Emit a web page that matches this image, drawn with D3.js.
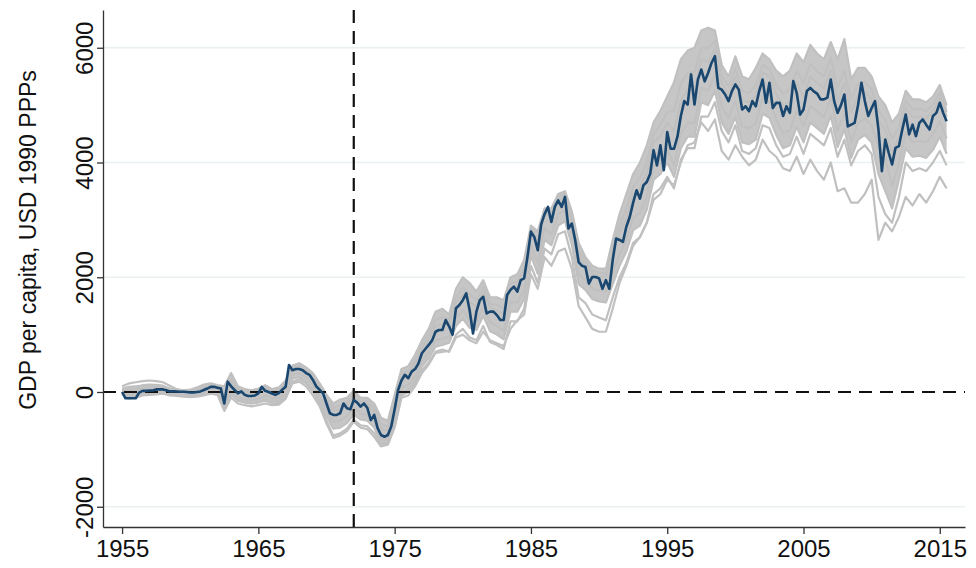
<!DOCTYPE html>
<html>
<head>
<meta charset="utf-8">
<script src="https://cdn.jsdelivr.net/npm/d3@7"></script>
<style>
  body { margin: 0; background: #fff; }
  text { font-family: "Liberation Sans", Arial, sans-serif; }
</style>
</head>
<body>
<div id="chart_area"></div>
<script>

// quarterly treated series, starts 1955q1
var startYear = 1955;
var treated = [
  0,-110,-110,-110, -110,-10,20,20, 25,25,45,45, 45,30,10,10, 10,5,5,0,
  -10,-10,0,10, 35,60,90,90, 75,60,-200,180, 100,35,-25,10, -50,-70,-70,-60,
  -25,90,20,0, -25,-50,-20,40, 90,470,380,400, 400,380,330,300, 210,100,35,-25,
  -200,-370,-400,-400, -370,-200,-285,-300, -140,-185,-255,-200, -280,-490,-400,-630, -750,-780,-750,-600,
  -300,35,200,300, 240,355,400,500, 675,750,820,900, 1050,1080,1080,1255, 1140,1000,1460,1515,
  1600,1720,1430,1020, 1400,1600,1660,1370, 1400,1400,1340,1255, 1255,1690,1780,1835, 1750,1950,1980,2360,
  2795,2700,2470,2920, 3100,3225,2965,3225, 3340,3225,3400,2850, 2935,2645,2265,2200, 2180,1890,2005,2005,
  1980,1800,1950,1800, 2300,2675,2650,2615, 2880,3050,3300,3515, 3370,3600,3660,3805, 4215,3950,4300,3865,
  4530,4240,4240,4450, 4810,5070,5010,5535, 5010,5445,5620,5415, 5560,5735,5855,5300, 5270,5185,5070,5245,
  5360,5270,4925,4980, 4895,5070,4980,5245, 5445,5040,5390,4950, 5040,5040,4810,4980, 4865,5420,5215,4835,
  4925,5245,5300,5240, 5200,5100,5100,5130, 5445,5070,4865,5000, 5185,4630,4660,4690, 5000,5390,5070,4810,
  4950,5070,4575,3850, 4400,4170,3965,4255, 4285,4575,4835,4490, 4660,4460,4690,4750, 4660,4575,4810,4865,
  5040,4865,4720
];

// placebo series, half-yearly, start 1955h1
var placebo1 = [
  60,90,100,110,110,100,80,60,40,30, 40,80,130,150,120,100,330,100,50,30,
  60,120,50,80,200,460,500,430,330,150, -50,-200,-130,-100,20,-100,-100,-200,-450,-500,
  -50,400,450,650,900,1100,1400,1450,1350,1800, 2000,1900,1750,1950,1650,1650,1600,2000,2050,2300,
  2900,2800,3200,3200,3450,3500,3150,2600,2350,2200, 2150,2150,2650,3100,3450,3800,4000,4300,4700,4900,
  5150,5400,5800,5950,6000,6300,6350,6300,5700,5500, 5850,5500,5450,5650,5900,5800,5600,5500,5600,5900,
  5750,6050,5900,5800,6100,5800,6150,5450,5650,5650, 5500,5150,5000,4700,4850,5250,5100,5100,5050,5150,5350,5000
];
var placebo2 = [
  50,40,50,120,130,125,110,60,40,25, 20,50,90,125,100,-20,230,50,10,-10,
  25,80,20,40,160,430,460,390,280,100, -110,-280,-230,-180,-40,-160,-170,-280,-560,-600,
  -150,320,370,550,800,990,1250,1300,1270,1650, 1820,1700,1600,1830,1540,1520,1450,1900,1920,2170,
  2860,2660,3160,3100,3400,3460,3060,2450,2280,2110, 2080,2060,2500,2900,3200,3580,3730,4020,4500,4650,
  4880,4900,5380,5560,5580,6000,5990,6120,5520,5320, 5640,5250,5210,5350,5700,5630,5350,5200,5270,5600,
  5380,5720,5590,5500,5830,5310,5590,5100,5380,5410, 5270,4900,4740,4400,4610,5080,4920,4940,4890,5010,5220,4880
];
var placebo3 = [
  30,10,20,60,70,80,70,40,30,20, 10,30,60,100,90,-100,150,20,-10,-30,
  0,50,0,10,130,400,430,360,240,60, -150,-330,-300,-230,-90,-200,-220,-330,-640,-680,
  -220,260,300,470,740,900,1150,1180,1200,1560, 1700,1560,1500,1740,1470,1420,1350,1840,1830,2070,
  2820,2560,3120,3030,3360,3420,2990,2350,2220,2050, 2020,2000,2400,2780,3020,3440,3550,3830,4350,4460,
  4700,4550,5080,5270,5280,5800,5760,5980,5390,5190, 5490,5080,5050,5160,5570,5500,5190,5000,5060,5400,
  5140,5500,5390,5290,5620,5070,5380,4870,5180,5240, 5100,4730,4570,4170,4440,4950,4790,4800,4770,4900,5120,4800
];
var placebo4 = [
  -20,-60,-40,-10,-5,10,15,-20,-30,-40, -50,-40,-10,40,20,-250,30,-100,-130,-150,
  -120,-60,-110,-100,20,300,330,260,120,-70, -320,-520,-500,-420,-270,-380,-400,-520,-830,-830,
  -420,80,120,280,540,690,900,930,960,1280, 1430,1260,1230,1480,1220,1150,1070,1570,1560,1780,
  2560,2250,2860,2750,3100,3180,2740,2050,1960,1800, 1770,1750,2080,2400,2640,3040,3120,3400,3930,4040,
  4240,3950,4500,4700,4690,5300,5250,5520,4970,4780, 5070,4630,4600,4680,5130,5060,4750,4510,4560,4900,
  4630,4990,4890,4790,5120,4550,4870,4360,4690,4760, 4650,4280,4060,3600,3980,4520,4350,4380,4350,4490,4720,4420
];
var placebo5 = [
  -10,-80,-70,-30,-20,-10,0,-40,-50,-60, -70,-60,-40,0,-20,-300,-50,-150,-180,-200,
  -180,-130,-170,-160,-50,230,260,180,40,-150, -420,-640,-620,-540,-390,-480,-500,-620,-900,-880,
  -520,-20,30,200,450,590,790,820,860,1150, 1280,1120,1080,1330,1060,1000,920,1400,1400,1620,
  2380,2060,2650,2560,2900,2980,2560,1880,1780,1620, 1580,1560,1880,2200,2450,2820,2900,3180,3700,3800,
  4000,3750,4250,4450,4450,5050,5000,5250,4700,4500, 4800,4350,4320,4400,4850,4780,4480,4250,4300,4620,
  4350,4700,4600,4500,4820,4270,4580,4080,4400,4480, 4350,3800,3500,3200,3700,4250,4100,4120,4080,4220,4450,4150
];
var placebo6 = [
  -30,-110,-100,-60,-50,-40,-30,-60,-70,-80, -90,-80,-60,-30,-50,-330,-100,-200,-230,-250,
  -230,-200,-230,-220,-120,150,180,100,-60,-250, -550,-800,-760,-680,-520,-620,-650,-780,-950,-920,
  -620,-100,-60,100,330,480,680,700,720,1000, 1100,950,900,1150,870,820,750,1230,1230,1450,
  2200,1900,2500,2400,2750,2800,2350,1650,1550,1350, 1300,1250,1650,2000,2250,2600,2700,2950,3450,3550,
  3750,3550,4050,4250,4250,4800,4800,5050,4550,4350, 4650,4200,4150,4250,4650,4600,4300,4100,4150,4450,
  4150,4500,4400,4300,4600,4100,4400,3950,4200,4300, 4150,3400,3100,2950,3400,4000,3850,3900,3850,4000,4200,3950
];
var placebo7 = [
  100,150,170,190,200,190,170,110,50,20, 0,20,50,80,60,-150,50,-150,-180,-200,
  -180,-150,-200,-190,-100,180,220,150,0,-200, -500,-760,-720,-640,-480,-580,-600,-720,-920,-900,
  -580,-60,0,150,380,520,700,740,700,950, 1000,900,850,1050,900,850,800,1100,1250,1350,
  2050,1800,2350,2200,2450,2500,2150,1500,1300,1100, 1050,1050,1450,1900,2200,2550,2700,2950,3350,3450,
  3700,3600,4000,4300,4350,4700,4550,4750,4200,4050, 4300,4100,3950,4050,4400,4200,4100,3900,3850,4100,
  3800,4050,3850,3700,4000,3500,3550,3300,3300,3450, 3700,2650,2950,2800,3050,3400,3250,3450,3300,3500,3750,3550
];
var placebos = [placebo1, placebo2, placebo3, placebo4, placebo5, placebo6, placebo7];

var xTicks = [1955, 1965, 1975, 1985, 1995, 2005, 2015];
var yTicks = [-2000, 0, 2000, 4000, 6000];
var treatYear = 1972;
var yTitle = "GDP per capita, USD 1990 PPPs";

var frame_width = 976, frame_height = 568;
var margin = {top: 10, right: 11, bottom: 41, left: 103};
var width = frame_width - margin.left - margin.right;
var height = frame_height - margin.top - margin.bottom;

var svg = d3.select("#chart_area").append("svg")
    .attr("width", frame_width)
    .attr("height", frame_height);
var canvas = svg.append("g")
    .attr("transform", "translate(" + margin.left + "," + margin.top + ")");

var xScale = d3.scaleLinear().domain([1953.6, 2016.85]).range([0, width]);
var yScale = d3.scaleLinear().domain([-2353, 6658]).range([height, 0]);

// gridlines
canvas.append("g").selectAll("line")
    .data(yTicks.filter(function(d) { return d !== 0; }))
    .enter().append("line")
    .attr("x1", 0).attr("x2", width)
    .attr("y1", function(d) { return yScale(d); })
    .attr("y2", function(d) { return yScale(d); })
    .attr("stroke", "#e8f0f2")
    .attr("stroke-width", 1.6);

var halfX = function(d, i) { return xScale(startYear + i * 0.5); };

// dense placebo band (upper placebo to lower main placebo)
var band = d3.area()
    .x(function(d, i) { return halfX(d, i); })
    .y0(function(d, i) { return yScale(placebo5[i]); })
    .y1(function(d, i) { return yScale(placebo1[i]); });
canvas.append("path")
    .datum(placebo1)
    .attr("d", band)
    .attr("fill", "#c6c6c6");

var halfLine = d3.line()
    .x(halfX)
    .y(function(d) { return yScale(d); });

canvas.append("g").selectAll("path")
    .data(placebos)
    .enter().append("path")
    .attr("d", halfLine)
    .attr("fill", "none")
    .attr("stroke", "#c0c0c0")
    .attr("stroke-width", 2.2)
    .attr("stroke-linejoin", "round");

// reference lines
canvas.append("line")
    .attr("x1", 0).attr("x2", width)
    .attr("y1", yScale(0)).attr("y2", yScale(0))
    .attr("stroke", "#111").attr("stroke-width", 2.2)
    .attr("stroke-dasharray", "13,8");
canvas.append("line")
    .attr("x1", xScale(treatYear)).attr("x2", xScale(treatYear))
    .attr("y1", 0).attr("y2", height)
    .attr("stroke", "#111").attr("stroke-width", 2.2)
    .attr("stroke-dasharray", "13,8");

var quarterLine = d3.line()
    .x(function(d, i) { return xScale(startYear + i * 0.25); })
    .y(function(d) { return yScale(d); });

canvas.append("path")
    .datum(treated)
    .attr("d", quarterLine)
    .attr("fill", "none")
    .attr("stroke", "#1a476f")
    .attr("stroke-width", 2.6)
    .attr("stroke-linejoin", "round");

// axes
var xAxis = d3.axisBottom(xScale).tickValues(xTicks).tickFormat(d3.format("d")).tickSize(7).tickSizeOuter(0);
var yAxis = d3.axisLeft(yScale).tickValues(yTicks).tickFormat(function(d) { return String(d); })
    .tickSize(6).tickSizeOuter(0);

var gx = canvas.append("g")
    .attr("transform", "translate(0," + height + ")")
    .call(xAxis);
gx.select(".domain").attr("stroke", "#333").attr("stroke-width", 1.3);
gx.selectAll(".tick line").attr("stroke", "#333").attr("stroke-width", 1.3);
gx.selectAll("text")
    .attr("font-size", 24)
    .attr("fill", "#111")
    .attr("y", 13)
    .attr("dy", "0.71em");

var gy = canvas.append("g").call(yAxis);
gy.select(".domain").attr("stroke", "#333").attr("stroke-width", 1.3);
gy.selectAll(".tick line").attr("stroke", "#333").attr("stroke-width", 1.3);
gy.selectAll("text")
    .attr("font-size", 24)
    .attr("fill", "#111")
    .attr("transform", "rotate(-90)")
    .attr("x", 0)
    .attr("y", -10)
    .attr("dy", 0)
    .attr("text-anchor", "middle");

svg.append("text")
    .attr("transform", "translate(36,240) rotate(-90)")
    .attr("text-anchor", "middle")
    .attr("font-size", 23)
    .attr("fill", "#111")
    .text(yTitle);

</script>
</body>
</html>
